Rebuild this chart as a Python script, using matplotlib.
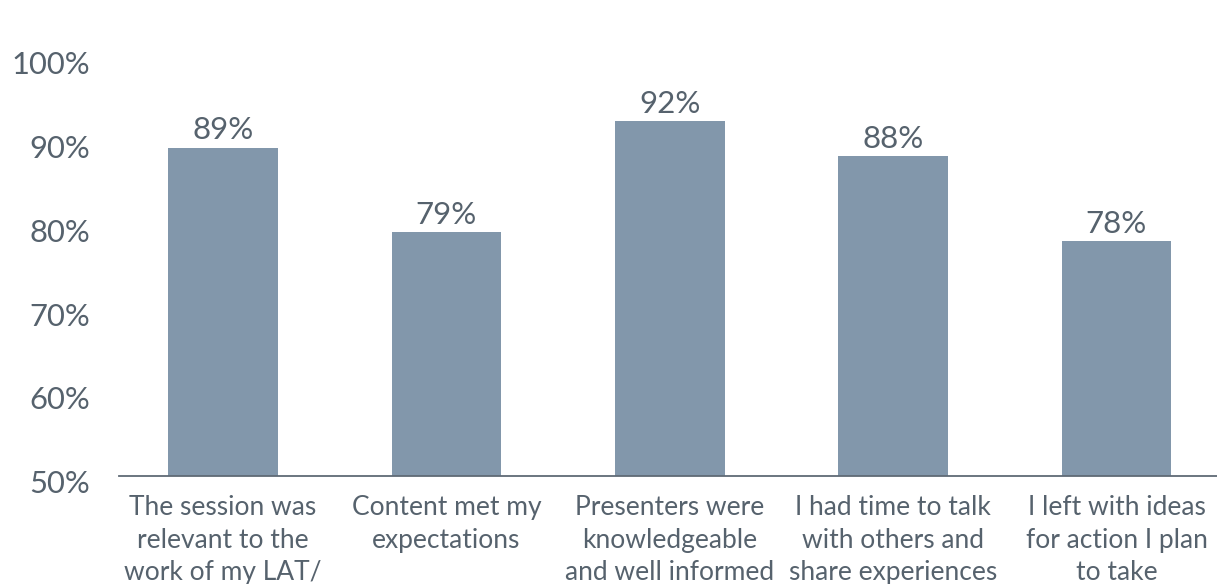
import numpy as np
import matplotlib.pyplot as plt
import matplotlib.transforms as mtransforms

# Survey results
categories = [
    "The session was\nrelevant to the\nwork of my LAT/",
    "Content met my\nexpectations",
    "Presenters were\nknowledgeable\nand well informed",
    "I had time to talk\nwith others and\nshare experiences",
    "I left with ideas\nfor action I plan\nto take",
]
values = [89.2, 79.1, 92.4, 88.2, 78.0]
value_labels = ["89%", "79%", "92%", "88%", "78%"]
yticks = [50, 60, 70, 80, 90, 100]

text_color = "#56626d"
bar_color = "#8297ab"

plt.rcParams["font.family"] = ["Lato", "DejaVu Sans"]

fig = plt.figure(figsize=(12.17, 5.84), dpi=100)
ax = fig.add_axes([0.098, 0.185, 0.902, 0.717])

x = np.arange(len(categories))
bars = ax.bar(x, [v - 50 for v in values], bottom=50, width=0.49, color=bar_color)

for b, lab in zip(bars, value_labels):
    ax.text(b.get_x() + b.get_width() / 2, b.get_y() + b.get_height() + 0.4, lab,
            ha="center", va="bottom", fontsize=22.5, color=text_color)

ax.set_ylim(50, 100)
ax.set_xlim(-0.465, 4.45)
ax.set_yticks(yticks)
ax.set_yticklabels([f"{t}%" for t in yticks])
ax.set_xticks(x)
ax.set_xticklabels(categories, linespacing=1.36)

ax.tick_params(axis="y", length=0, pad=21, labelsize=22.3, labelcolor=text_color)
ax.tick_params(axis="x", length=0, pad=14, labelsize=19, labelcolor=text_color)

# nudge y labels a little down like the original
shift = mtransforms.ScaledTranslation(0, -4 / 72, fig.dpi_scale_trans)
for t in ax.get_yticklabels():
    t.set_transform(t.get_transform() + shift)

for s in ["top", "right", "left"]:
    ax.spines[s].set_visible(False)
ax.spines["bottom"].set_color("#5f6a75")
ax.spines["bottom"].set_linewidth(1.3)

fig.savefig("out.png", dpi=100)
